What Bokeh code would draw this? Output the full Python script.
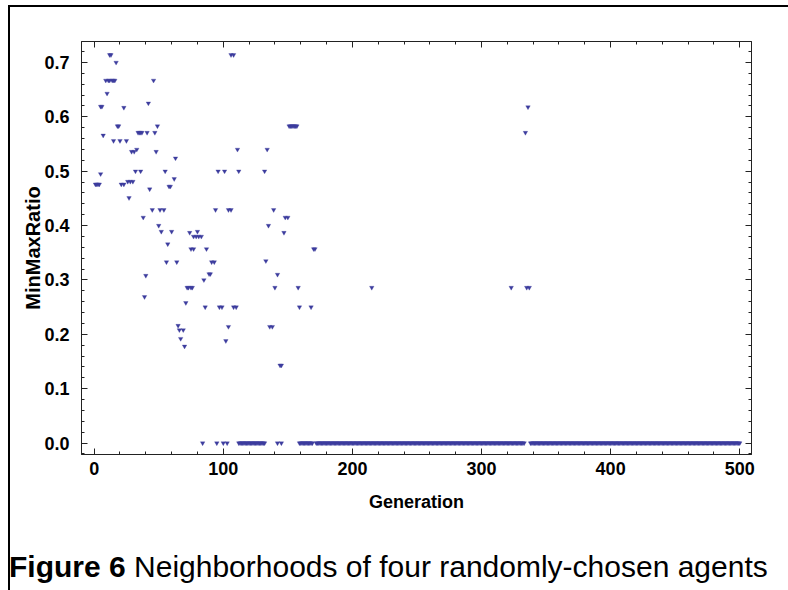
from bokeh.plotting import figure
from bokeh.layouts import column
from bokeh.models import (Range1d, SingleIntervalTicker, LinearAxis,
                          PrintfTickFormatter, ColumnDataSource, Div)
from bokeh.embed import file_html
from bokeh.resources import INLINE

# ---- data (Generation, MinMaxRatio) ----
gen_nonzero = [12, 13, 17, 9, 11, 12, 14, 15, 16, 46, 10, 5, 6, 23, 42,
               18, 19, 49, 34, 35, 36, 37, 41, 47, 7, 15, 20, 25, 29, 31,
               33, 48, 63, 32, 36, 55, 5, 1, 2, 3, 4, 21, 23, 26, 28, 30,
               62, 43, 58, 59, 27, 45, 51, 54, 38, 50, 52, 60, 74, 80,
               77, 79, 81, 83, 57, 75, 77, 87, 170, 171, 56, 64, 91, 93,
               133, 40, 89, 90, 142, 85, 72, 73, 75, 76, 140, 158, 215,
               323, 335, 337, 39, 71, 86, 97, 99, 108, 110, 159, 168, 65,
               66, 69, 104, 136, 138, 102, 67, 70, 144, 145,
               151, 152, 153, 154, 155, 156, 157, 111, 134, 96, 101, 112,
               132, 94, 104, 106, 139, 148, 150, 135, 147, 106, 108,
               334, 336]
val_nonzero = [0.714, 0.714, 0.700, 0.667, 0.667, 0.667, 0.667, 0.667, 0.667,
               0.667, 0.643, 0.619, 0.619, 0.617, 0.625,
               0.583, 0.583, 0.583, 0.571, 0.571, 0.571, 0.571, 0.571, 0.571,
               0.566, 0.556, 0.556, 0.556, 0.536, 0.536,
               0.540, 0.536, 0.524, 0.500, 0.500, 0.500, 0.495, 0.476, 0.476,
               0.476, 0.476, 0.476, 0.476, 0.481, 0.481, 0.481,
               0.486, 0.467, 0.472, 0.472, 0.451, 0.429, 0.429, 0.429, 0.415,
               0.400, 0.389, 0.389, 0.387, 0.389,
               0.380, 0.380, 0.380, 0.380, 0.366, 0.357, 0.357, 0.357, 0.357,
               0.357, 0.333, 0.333, 0.333, 0.333,
               0.335, 0.308, 0.311, 0.311, 0.310, 0.300, 0.286, 0.286, 0.286,
               0.286, 0.286, 0.286, 0.286,
               0.286, 0.286, 0.286, 0.269, 0.258, 0.250, 0.250, 0.250, 0.250,
               0.250, 0.250, 0.250, 0.216,
               0.208, 0.208, 0.214, 0.214, 0.214, 0.188, 0.192, 0.178, 0.143,
               0.143,
               0.583, 0.583, 0.583, 0.583, 0.583, 0.583, 0.583, 0.540, 0.540,
               0.500, 0.500, 0.500,
               0.500, 0.429, 0.429, 0.429, 0.429, 0.415, 0.415, 0.400, 0.387,
               0.714, 0.714,
               0.571, 0.618]

# generations whose value is 0.0
zero_single_gens = [84, 95, 100, 103, 142, 145]
zero_runs = [(112, 132), (159, 169), (172, 333), (338, 500)]

x_label = "Generation"
y_label = "MinMaxRatio"
caption_bold = "Figure 6"
caption_rest = "Neighborhoods of four randomly-chosen agents"

# ---- build the point table ----
zero_gens = list(zero_single_gens)
for a, b in zero_runs:
    zero_gens.extend(range(a, b + 1))
xs = gen_nonzero + zero_gens
ys = val_nonzero + [0.0] * len(zero_gens)
src = ColumnDataSource(dict(x=xs, y=ys))

FONT = "Liberation Sans"
PT_COLOR = "#3c3c9e"
W = 770

p = figure(width=W, height=520, output_backend="svg", toolbar_location=None,
           x_range=Range1d(-9.8, 509.1), y_range=Range1d(-0.021, 0.7386),
           min_border_left=71, min_border_right=29, min_border_top=34,
           min_border_bottom=73, x_axis_type=None, y_axis_type=None)
p.grid.visible = False
p.outline_line_color = "#222222"
p.background_fill_color = "white"
p.border_fill_color = "white"

xt = SingleIntervalTicker(interval=100, num_minor_ticks=5)
yt = SingleIntervalTicker(interval=0.1, num_minor_ticks=5)


def style_axis(ax, show_labels):
    ax.axis_line_color = "#222222"
    ax.major_tick_line_color = "#222222"
    ax.minor_tick_line_color = "#222222"
    ax.major_tick_in = 6
    ax.major_tick_out = 0
    ax.minor_tick_in = 3
    ax.minor_tick_out = 0
    if show_labels:
        ax.major_label_text_font = FONT
        ax.major_label_text_font_style = "bold"
        ax.major_label_text_font_size = "18px"
        ax.major_label_text_color = "black"
        ax.axis_label_text_font = FONT
        ax.axis_label_text_font_style = "bold"
        ax.axis_label_text_color = "black"
    else:
        ax.major_label_text_font_size = "0px"
        ax.major_label_text_alpha = 0


xb = LinearAxis(ticker=xt, axis_label=x_label)
style_axis(xb, True)
xb.axis_label_text_font_size = "18px"
xb.major_label_standoff = 7
xb.axis_label_standoff = 14
p.add_layout(xb, "below")

yl = LinearAxis(ticker=yt, axis_label=y_label,
                formatter=PrintfTickFormatter(format="%.1f"))
style_axis(yl, True)
yl.axis_label_text_font_size = "20px"
yl.major_label_standoff = 12
yl.axis_label_standoff = -3
p.add_layout(yl, "left")

xa = LinearAxis(ticker=xt)
style_axis(xa, False)
p.add_layout(xa, "above")
yr = LinearAxis(ticker=yt)
style_axis(yr, False)
p.add_layout(yr, "right")

p.scatter("x", "y", source=src, marker="inverted_triangle", size=4.5,
          fill_color=PT_COLOR, line_color=PT_COLOR, line_width=0.3)

# ---- caption ----
cap = Div(text="<b>%s</b> %s" % (caption_bold, caption_rest), width=W, height=54,
          styles={"font-family": FONT, "font-size": "30px", "line-height": "30px",
                  "padding-top": "20px", "padding-left": "0px",
                  "text-indent": "-6px",
                  "white-space": "nowrap", "color": "black"})

layout = column(p, cap, spacing=0,
                styles={"border-left": "2px solid #000000",
                        "border-top": "2px solid #000000",
                        "margin-left": "8px", "margin-top": "5px"})

open("out.html", "w").write(file_html(layout, INLINE))
